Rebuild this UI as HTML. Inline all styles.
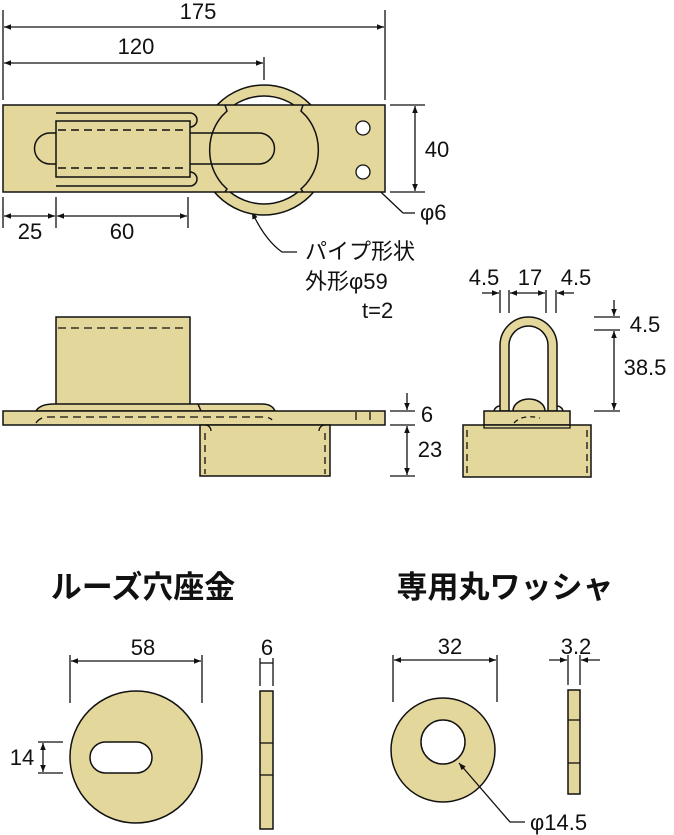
<!DOCTYPE html>
<html><head><meta charset="utf-8"><style>
html,body{margin:0;padding:0;background:#fff}
svg{display:block}
text{font-family:"Liberation Sans","Noto Sans CJK JP",sans-serif;font-size:22px;fill:#111}
</style></head><body>
<svg width="674" height="835" viewBox="0 0 674 835" xmlns="http://www.w3.org/2000/svg">
<defs>
<marker id="a" viewBox="0 0 10 10" refX="10" refY="5" markerWidth="9" markerHeight="7" orient="auto-start-reverse" markerUnits="userSpaceOnUse"><path d="M0,1L10,5L0,9z" fill="#111"/></marker>
</defs>
<g stroke="#111" stroke-width="1.3" fill="none">
<line x1="3" y1="10" x2="3" y2="100"/><line x1="385" y1="10" x2="385" y2="100"/>
<line x1="4" y1="27" x2="384" y2="27" marker-start="url(#a)" marker-end="url(#a)"/>
<line x1="264" y1="57" x2="264" y2="80"/>
<line x1="4" y1="63" x2="263" y2="63" marker-start="url(#a)" marker-end="url(#a)"/>
<line x1="390" y1="105" x2="425" y2="105"/><line x1="390" y1="192" x2="425" y2="192"/>
<line x1="415" y1="106" x2="415" y2="191" marker-start="url(#a)" marker-end="url(#a)"/>
<line x1="3" y1="197" x2="3" y2="228"/><line x1="56" y1="197" x2="56" y2="228"/><line x1="188" y1="197" x2="188" y2="228"/>
<line x1="4" y1="216" x2="55" y2="216" marker-start="url(#a)" marker-end="url(#a)"/>
<line x1="57" y1="216" x2="187" y2="216" marker-start="url(#a)" marker-end="url(#a)"/>
<path d="M403,213 L366,178" marker-end="url(#a)"/><line x1="403" y1="213" x2="415" y2="213"/>
<path d="M297,252 L282,252 Q265,240 252,212" marker-end="url(#a)"/>
</g>
<circle cx="264" cy="150" r="65" fill="#e3d79b" stroke="#111" stroke-width="1.5"/>
<circle cx="264" cy="150" r="54" fill="#fff" stroke="#111" stroke-width="1.5"/>
<rect x="3" y="105" width="382" height="87" fill="#e3d79b" stroke="#111" stroke-width="1.5"/>
<g stroke="#111" stroke-width="1.5" fill="none">
<path d="M225,105 L227,111 L222,116 A53,53 0 0 0 222,184 L227,189 L225,192"/>
<path d="M303,105 L301,111 L306,116 A53,53 0 0 1 306,184 L301,189 L303,192"/>
<path d="M56,133 L50,133 A15.5,15.5 0 0 0 50,164 L56,164"/>
<path d="M190,133 L259,133 A15.5,15.5 0 0 1 259,164 L190,164"/>
<path d="M56,113 L190,113 A7,7 0 0 1 190,127"/>
<path d="M56,186 L190,186 A7,7 0 0 0 190,172"/>
<rect x="56" y="121" width="134" height="56"/>
<line x1="58" y1="130" x2="188" y2="130" stroke-dasharray="8,5"/>
<line x1="58" y1="168" x2="188" y2="168" stroke-dasharray="8,5"/>
</g>
<circle cx="363" cy="128" r="7" fill="#fff" stroke="#111" stroke-width="1.3"/>
<circle cx="363" cy="172" r="7" fill="#fff" stroke="#111" stroke-width="1.3"/>
<text x="198" y="19" text-anchor="middle">175</text>
<text x="136" y="54" text-anchor="middle">120</text>
<text x="437" y="157" text-anchor="middle">40</text>
<text x="30" y="239" text-anchor="middle">25</text>
<text x="122" y="239" text-anchor="middle">60</text>
<text x="420" y="220">φ6</text>
<text x="305" y="259">パイプ形状</text>
<text x="305" y="289">外形φ59</text>
<text x="362" y="318">t=2</text>

<g stroke="#111" stroke-width="1.5">
<rect x="56" y="317" width="134" height="88" fill="#e3d79b"/>
<path d="M36,411 Q40,404 54,404 L262,404 Q272,404 275,411 Z" fill="#e3d79b"/>
<line x1="198" y1="404" x2="201" y2="411"/>
<rect x="3" y="411" width="382" height="14" fill="#e3d79b"/>
<rect x="200" y="425" width="130" height="51" fill="#e3d79b"/>
</g>
<g stroke="#111" stroke-width="1.3" fill="none">
<line x1="58" y1="328" x2="186" y2="328" stroke-dasharray="8,5"/>
<path d="M36,423 Q40,417 48,417 L262,417 Q270,417 272,420" stroke-dasharray="8,5"/>
<line x1="356" y1="412" x2="356" y2="420"/><line x1="370" y1="412" x2="370" y2="420"/>
<line x1="205" y1="433" x2="205" y2="474" stroke-dasharray="7,5"/>
<line x1="325" y1="433" x2="325" y2="474" stroke-dasharray="7,5"/>
<path d="M205,425 A6,6 0 0 1 211,431"/><path d="M325,425 A6,6 0 0 0 319,431"/>
<line x1="390" y1="411" x2="415" y2="411"/><line x1="390" y1="425" x2="415" y2="425"/><line x1="390" y1="476" x2="415" y2="476"/>
<line x1="407" y1="393" x2="407" y2="410" marker-end="url(#a)"/>
<line x1="407" y1="426" x2="407" y2="475" marker-start="url(#a)" marker-end="url(#a)"/>
</g>
<text x="427" y="422" text-anchor="middle">6</text>
<text x="430" y="457" text-anchor="middle">23</text>

<g stroke="#111" stroke-width="1.5">
<path d="M500,411 L500,345.5 A28.5,28.5 0 0 1 557,345.5 L557,411 L548,411 L548,345.5 A19.5,19.5 0 0 0 509,345.5 L509,411 Z" fill="#e3d79b"/>
<path d="M494,411 A6,6 0 0 1 500,406 M557,406 A6,6 0 0 1 563,411" fill="#e3d79b"/>
<path d="M513,411 A16,12 0 0 1 545,411" fill="#e3d79b"/>
<rect x="484" y="411" width="86" height="14" fill="#e3d79b"/>
<rect x="463" y="425" width="128" height="52" fill="#e3d79b"/>
</g>
<g stroke="#111" stroke-width="1.3" fill="none">
<path d="M484,425 L484,428 L570,428 L570,425"/>
<path d="M514,423 Q522,414 540,418" stroke-dasharray="5,4"/>
<line x1="467" y1="430" x2="467" y2="475" stroke-dasharray="7,5"/>
<line x1="587" y1="430" x2="587" y2="475" stroke-dasharray="7,5"/>
<line x1="500" y1="290" x2="500" y2="313"/><line x1="509" y1="290" x2="509" y2="313"/>
<line x1="546" y1="290" x2="546" y2="313"/><line x1="556" y1="290" x2="556" y2="313"/>
<line x1="482" y1="293" x2="499" y2="293" marker-end="url(#a)"/>
<line x1="510" y1="293" x2="545" y2="293" marker-start="url(#a)" marker-end="url(#a)"/>
<line x1="574" y1="293" x2="557" y2="293" marker-end="url(#a)"/>
<line x1="594" y1="317" x2="620" y2="317"/><line x1="594" y1="330" x2="620" y2="330"/><line x1="594" y1="411" x2="620" y2="411"/>
<line x1="614" y1="300" x2="614" y2="316" marker-end="url(#a)"/>
<line x1="614" y1="331" x2="614" y2="410" marker-start="url(#a)" marker-end="url(#a)"/>
</g>
<text x="484" y="285" text-anchor="middle">4.5</text>
<text x="530" y="285" text-anchor="middle">17</text>
<text x="576" y="285" text-anchor="middle">4.5</text>
<text x="645" y="332" text-anchor="middle">4.5</text>
<text x="645" y="375" text-anchor="middle">38.5</text>

<text x="143" y="598" text-anchor="middle" style="font-size:31px;font-weight:bold">ルーズ穴座金</text>
<text x="505" y="598" text-anchor="middle" style="font-size:31px;font-weight:bold">専用丸ワッシャ</text>

<path fill-rule="evenodd" d="M70,757 A66,66 0 1 0 202,757 A66,66 0 1 0 70,757 Z M105.5,742 L136.5,742 A15.5,15.5 0 0 1 136.5,773 L105.5,773 A15.5,15.5 0 0 1 105.5,742 Z" fill="#e3d79b" stroke="#111" stroke-width="1.5"/>
<rect x="260" y="691" width="13" height="138" fill="#e3d79b" stroke="#111" stroke-width="1.5"/>
<g stroke="#111" stroke-width="1.3" fill="none">
<line x1="260" y1="743" x2="273" y2="743"/><line x1="260" y1="775" x2="273" y2="775"/>
<line x1="70" y1="655" x2="70" y2="703"/><line x1="202" y1="655" x2="202" y2="703"/>
<line x1="71" y1="661" x2="201" y2="661" marker-start="url(#a)" marker-end="url(#a)"/>
<line x1="38" y1="742" x2="63" y2="742"/><line x1="38" y1="773" x2="63" y2="773"/>
<line x1="43" y1="743" x2="43" y2="772" marker-start="url(#a)" marker-end="url(#a)"/>
<line x1="260" y1="658" x2="260" y2="686"/><line x1="273" y1="658" x2="273" y2="686"/>
<line x1="260" y1="663" x2="273" y2="663"/>
</g>
<text x="143" y="655" text-anchor="middle">58</text>
<text x="22" y="765" text-anchor="middle">14</text>
<text x="267" y="655" text-anchor="middle">6</text>

<path fill-rule="evenodd" d="M391,750 A52,52 0 1 0 495,750 A52,52 0 1 0 391,750 Z M421,742 A22,22 0 1 0 465,742 A22,22 0 1 0 421,742 Z" fill="#e3d79b" stroke="#111" stroke-width="1.5"/>
<rect x="568" y="690" width="12" height="104" fill="#e3d79b" stroke="#111" stroke-width="1.5"/>
<g stroke="#111" stroke-width="1.3" fill="none">
<line x1="568" y1="720" x2="580" y2="720"/><line x1="568" y1="763" x2="580" y2="763"/>
<line x1="393" y1="655" x2="393" y2="702"/><line x1="497" y1="655" x2="497" y2="702"/>
<line x1="394" y1="660" x2="496" y2="660" marker-start="url(#a)" marker-end="url(#a)"/>
<line x1="568" y1="655" x2="568" y2="685"/><line x1="580" y1="655" x2="580" y2="685"/>
<line x1="549" y1="660" x2="567" y2="660" marker-end="url(#a)"/>
<line x1="600" y1="660" x2="581" y2="660" marker-end="url(#a)"/>
<path d="M525,822 L510,822 L459,763" marker-end="url(#a)"/>
</g>
<text x="450" y="654" text-anchor="middle">32</text>
<text x="576" y="654" text-anchor="middle">3.2</text>
<text x="530" y="830">φ14.5</text>
</svg>
</body></html>
